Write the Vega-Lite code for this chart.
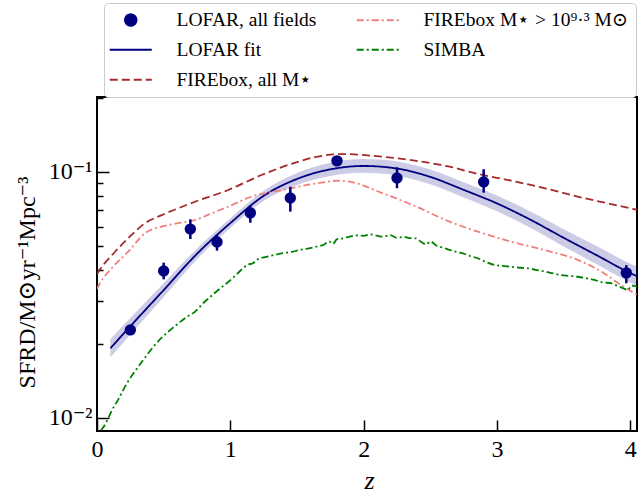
{
  "$schema": "https://vega.github.io/schema/vega-lite/v6.json",
  "width": 540,
  "height": 334,
  "autosize": {"type": "none"},
  "padding": {"left": 97, "top": 97, "right": 4, "bottom": 62},
  "background": "white",
  "config": {
    "view": {"stroke": "black", "strokeWidth": 2},
    "font": "Liberation Serif, DejaVu Serif, serif",
    "axis": {"domain": false, "grid": false, "labelFont": "Liberation Serif, DejaVu Serif, serif", "labelFontSize": 24, "labelColor": "black", "tickColor": "black", "tickWidth": 1.5, "titleFont": "Liberation Serif, DejaVu Serif, serif", "titleColor": "black", "titleFontWeight": "normal", "labelFlush": false, "labelOverlap": false, "labelBound": false},
    "legend": {
      "orient": "none", "legendX": 7, "legendY": -94, "columns": 2, "columnPadding": 35, "rowPadding": 9, "padding": 7,
      "strokeColor": "#cccccc", "fillColor": "white", "cornerRadius": 4,
      "labelFont": "Liberation Serif, DejaVu Serif, serif", "labelFontSize": 19.5, "labelColor": "black", "labelOffset": 36, "labelLimit": 400,
      "symbolOffset": 10,
      "symbolStrokeWidth": 2, "symbolFillColor": "#000080", "symbolOpacity": 1
    }
  },
  "datasets": {
    "points": [
      {"series": "LOFAR, all fields", "z": 0.25, "v": 0.0228, "lo": 0.0222, "hi": 0.0234},
      {"series": "LOFAR, all fields", "z": 0.5, "v": 0.0396, "lo": 0.0366, "hi": 0.0428},
      {"series": "LOFAR, all fields", "z": 0.7, "v": 0.0586, "lo": 0.0534, "hi": 0.0642},
      {"series": "LOFAR, all fields", "z": 0.9, "v": 0.0519, "lo": 0.0479, "hi": 0.0558},
      {"series": "LOFAR, all fields", "z": 1.15, "v": 0.0682, "lo": 0.0622, "hi": 0.0734},
      {"series": "LOFAR, all fields", "z": 1.45, "v": 0.0784, "lo": 0.069, "hi": 0.0871},
      {"series": "LOFAR, all fields", "z": 1.8, "v": 0.111, "lo": 0.107, "hi": 0.115},
      {"series": "LOFAR, all fields", "z": 2.25, "v": 0.0946, "lo": 0.0859, "hi": 0.1045},
      {"series": "LOFAR, all fields", "z": 2.9, "v": 0.091, "lo": 0.0824, "hi": 0.1026},
      {"series": "LOFAR, all fields", "z": 3.97, "v": 0.0389, "lo": 0.0353, "hi": 0.0418}
    ],
    "models": [
      {"series": "LOFAR fit", "z": 0.1, "v": 0.0192, "lo": 0.01763, "hi": 0.02091},
      {"series": "LOFAR fit", "z": 0.25, "v": 0.0236, "lo": 0.02183, "hi": 0.02551},
      {"series": "LOFAR fit", "z": 0.5, "v": 0.0331, "lo": 0.03102, "hi": 0.03532},
      {"series": "LOFAR fit", "z": 0.75, "v": 0.0465, "lo": 0.0442, "hi": 0.0489},
      {"series": "LOFAR fit", "z": 1.0, "v": 0.062, "lo": 0.0592, "hi": 0.0649},
      {"series": "LOFAR fit", "z": 1.25, "v": 0.08, "lo": 0.0763, "hi": 0.0839},
      {"series": "LOFAR fit", "z": 1.5, "v": 0.0937, "lo": 0.0886, "hi": 0.099},
      {"series": "LOFAR fit", "z": 1.75, "v": 0.1025, "lo": 0.0963, "hi": 0.1091},
      {"series": "LOFAR fit", "z": 2.0, "v": 0.1058, "lo": 0.0992, "hi": 0.1129},
      {"series": "LOFAR fit", "z": 2.25, "v": 0.1033, "lo": 0.0966, "hi": 0.1104},
      {"series": "LOFAR fit", "z": 2.5, "v": 0.0955, "lo": 0.0891, "hi": 0.1024},
      {"series": "LOFAR fit", "z": 2.75, "v": 0.0846, "lo": 0.0788, "hi": 0.0909},
      {"series": "LOFAR fit", "z": 3.0, "v": 0.0745, "lo": 0.0692, "hi": 0.0802},
      {"series": "LOFAR fit", "z": 3.25, "v": 0.064, "lo": 0.0593, "hi": 0.0691},
      {"series": "LOFAR fit", "z": 3.5, "v": 0.054, "lo": 0.0498, "hi": 0.0585},
      {"series": "LOFAR fit", "z": 3.75, "v": 0.0458, "lo": 0.0421, "hi": 0.0499},
      {"series": "LOFAR fit", "z": 4.0, "v": 0.0388, "lo": 0.0355, "hi": 0.0424},
      {"series": "LOFAR fit", "z": 4.05, "v": 0.0377, "lo": 0.0344, "hi": 0.0413},

      {"series": "FIREbox, all M⋆", "z": 0.0, "v": 0.0385},
      {"series": "FIREbox, all M⋆", "z": 0.02, "v": 0.04},
      {"series": "FIREbox, all M⋆", "z": 0.135, "v": 0.0474},
      {"series": "FIREbox, all M⋆", "z": 0.234, "v": 0.0538},
      {"series": "FIREbox, all M⋆", "z": 0.36, "v": 0.0619},
      {"series": "FIREbox, all M⋆", "z": 0.485, "v": 0.0668},
      {"series": "FIREbox, all M⋆", "z": 0.609, "v": 0.0712},
      {"series": "FIREbox, all M⋆", "z": 0.734, "v": 0.0757},
      {"series": "FIREbox, all M⋆", "z": 0.984, "v": 0.0845},
      {"series": "FIREbox, all M⋆", "z": 1.234, "v": 0.0972},
      {"series": "FIREbox, all M⋆", "z": 1.483, "v": 0.109},
      {"series": "FIREbox, all M⋆", "z": 1.646, "v": 0.1153},
      {"series": "FIREbox, all M⋆", "z": 1.845, "v": 0.1183},
      {"series": "FIREbox, all M⋆", "z": 2.145, "v": 0.1153},
      {"series": "FIREbox, all M⋆", "z": 2.395, "v": 0.111},
      {"series": "FIREbox, all M⋆", "z": 2.644, "v": 0.1051},
      {"series": "FIREbox, all M⋆", "z": 2.856, "v": 0.0982},
      {"series": "FIREbox, all M⋆", "z": 3.106, "v": 0.0922},
      {"series": "FIREbox, all M⋆", "z": 3.356, "v": 0.0859},
      {"series": "FIREbox, all M⋆", "z": 3.605, "v": 0.0794},
      {"series": "FIREbox, all M⋆", "z": 3.855, "v": 0.0741},
      {"series": "FIREbox, all M⋆", "z": 4.055, "v": 0.0701},

      {"series": "FIREbox M⋆ > 10⁹·³ M⊙", "z": 0.0, "v": 0.0335},
      {"series": "FIREbox M⋆ > 10⁹·³ M⊙", "z": 0.022, "v": 0.0353},
      {"series": "FIREbox M⋆ > 10⁹·³ M⊙", "z": 0.11, "v": 0.0406},
      {"series": "FIREbox M⋆ > 10⁹·³ M⊙", "z": 0.234, "v": 0.0474},
      {"series": "FIREbox M⋆ > 10⁹·³ M⊙", "z": 0.36, "v": 0.0564},
      {"series": "FIREbox M⋆ > 10⁹·³ M⊙", "z": 0.485, "v": 0.06},
      {"series": "FIREbox M⋆ > 10⁹·³ M⊙", "z": 0.609, "v": 0.0619},
      {"series": "FIREbox M⋆ > 10⁹·³ M⊙", "z": 0.734, "v": 0.0638},
      {"series": "FIREbox M⋆ > 10⁹·³ M⊙", "z": 0.859, "v": 0.0679},
      {"series": "FIREbox M⋆ > 10⁹·³ M⊙", "z": 0.984, "v": 0.0723},
      {"series": "FIREbox M⋆ > 10⁹·³ M⊙", "z": 1.159, "v": 0.0794},
      {"series": "FIREbox M⋆ > 10⁹·³ M⊙", "z": 1.395, "v": 0.0845},
      {"series": "FIREbox M⋆ > 10⁹·³ M⊙", "z": 1.646, "v": 0.0899},
      {"series": "FIREbox M⋆ > 10⁹·³ M⊙", "z": 1.82, "v": 0.0922},
      {"series": "FIREbox M⋆ > 10⁹·³ M⊙", "z": 1.895, "v": 0.0913},
      {"series": "FIREbox M⋆ > 10⁹·³ M⊙", "z": 2.145, "v": 0.0819},
      {"series": "FIREbox M⋆ > 10⁹·³ M⊙", "z": 2.395, "v": 0.0723},
      {"series": "FIREbox M⋆ > 10⁹·³ M⊙", "z": 2.644, "v": 0.0628},
      {"series": "FIREbox M⋆ > 10⁹·³ M⊙", "z": 2.856, "v": 0.0572},
      {"series": "FIREbox M⋆ > 10⁹·³ M⊙", "z": 3.106, "v": 0.0521},
      {"series": "FIREbox M⋆ > 10⁹·³ M⊙", "z": 3.356, "v": 0.0482},
      {"series": "FIREbox M⋆ > 10⁹·³ M⊙", "z": 3.605, "v": 0.0439},
      {"series": "FIREbox M⋆ > 10⁹·³ M⊙", "z": 3.805, "v": 0.0387},
      {"series": "FIREbox M⋆ > 10⁹·³ M⊙", "z": 3.93, "v": 0.0347},
      {"series": "FIREbox M⋆ > 10⁹·³ M⊙", "z": 4.055, "v": 0.0316},

      {"series": "SIMBA", "z": 0.03, "v": 0.0089},
      {"series": "SIMBA", "z": 0.05, "v": 0.0092},
      {"series": "SIMBA", "z": 0.085, "v": 0.01},
      {"series": "SIMBA", "z": 0.11, "v": 0.0107},
      {"series": "SIMBA", "z": 0.16, "v": 0.0119},
      {"series": "SIMBA", "z": 0.2, "v": 0.0131},
      {"series": "SIMBA", "z": 0.234, "v": 0.0141},
      {"series": "SIMBA", "z": 0.3, "v": 0.0159},
      {"series": "SIMBA", "z": 0.36, "v": 0.0176},
      {"series": "SIMBA", "z": 0.42, "v": 0.0194},
      {"series": "SIMBA", "z": 0.485, "v": 0.0212},
      {"series": "SIMBA", "z": 0.55, "v": 0.0228},
      {"series": "SIMBA", "z": 0.609, "v": 0.0242},
      {"series": "SIMBA", "z": 0.67, "v": 0.0257},
      {"series": "SIMBA", "z": 0.734, "v": 0.027},
      {"series": "SIMBA", "z": 0.8, "v": 0.0294},
      {"series": "SIMBA", "z": 0.859, "v": 0.0314},
      {"series": "SIMBA", "z": 0.92, "v": 0.0335},
      {"series": "SIMBA", "z": 0.984, "v": 0.0357},
      {"series": "SIMBA", "z": 1.05, "v": 0.0385},
      {"series": "SIMBA", "z": 1.1, "v": 0.0408},
      {"series": "SIMBA", "z": 1.133, "v": 0.042},
      {"series": "SIMBA", "z": 1.17, "v": 0.0426},
      {"series": "SIMBA", "z": 1.2, "v": 0.044},
      {"series": "SIMBA", "z": 1.271, "v": 0.0452},
      {"series": "SIMBA", "z": 1.33, "v": 0.046},
      {"series": "SIMBA", "z": 1.395, "v": 0.0468},
      {"series": "SIMBA", "z": 1.45, "v": 0.0472},
      {"series": "SIMBA", "z": 1.52, "v": 0.0482},
      {"series": "SIMBA", "z": 1.58, "v": 0.0488},
      {"series": "SIMBA", "z": 1.646, "v": 0.0497},
      {"series": "SIMBA", "z": 1.7, "v": 0.0506},
      {"series": "SIMBA", "z": 1.74, "v": 0.0522},
      {"series": "SIMBA", "z": 1.77, "v": 0.051},
      {"series": "SIMBA", "z": 1.8, "v": 0.0533},
      {"series": "SIMBA", "z": 1.85, "v": 0.0538},
      {"series": "SIMBA", "z": 1.895, "v": 0.0546},
      {"series": "SIMBA", "z": 1.95, "v": 0.0552},
      {"series": "SIMBA", "z": 2.0, "v": 0.055},
      {"series": "SIMBA", "z": 2.05, "v": 0.0558},
      {"series": "SIMBA", "z": 2.1, "v": 0.0551},
      {"series": "SIMBA", "z": 2.145, "v": 0.0546},
      {"series": "SIMBA", "z": 2.2, "v": 0.0554},
      {"series": "SIMBA", "z": 2.25, "v": 0.054},
      {"series": "SIMBA", "z": 2.3, "v": 0.0545},
      {"series": "SIMBA", "z": 2.35, "v": 0.0538},
      {"series": "SIMBA", "z": 2.395, "v": 0.0537},
      {"series": "SIMBA", "z": 2.43, "v": 0.052},
      {"series": "SIMBA", "z": 2.47, "v": 0.0508},
      {"series": "SIMBA", "z": 2.5, "v": 0.0522},
      {"series": "SIMBA", "z": 2.55, "v": 0.05},
      {"series": "SIMBA", "z": 2.6, "v": 0.0492},
      {"series": "SIMBA", "z": 2.644, "v": 0.0482},
      {"series": "SIMBA", "z": 2.7, "v": 0.0473},
      {"series": "SIMBA", "z": 2.75, "v": 0.0466},
      {"series": "SIMBA", "z": 2.8, "v": 0.0455},
      {"series": "SIMBA", "z": 2.856, "v": 0.0446},
      {"series": "SIMBA", "z": 2.92, "v": 0.043},
      {"series": "SIMBA", "z": 2.98, "v": 0.0419},
      {"series": "SIMBA", "z": 3.04, "v": 0.0415},
      {"series": "SIMBA", "z": 3.106, "v": 0.0412},
      {"series": "SIMBA", "z": 3.17, "v": 0.0408},
      {"series": "SIMBA", "z": 3.23, "v": 0.0406},
      {"series": "SIMBA", "z": 3.29, "v": 0.04},
      {"series": "SIMBA", "z": 3.356, "v": 0.0394},
      {"series": "SIMBA", "z": 3.42, "v": 0.0387},
      {"series": "SIMBA", "z": 3.48, "v": 0.0381},
      {"series": "SIMBA", "z": 3.54, "v": 0.0378},
      {"series": "SIMBA", "z": 3.605, "v": 0.0375},
      {"series": "SIMBA", "z": 3.67, "v": 0.037},
      {"series": "SIMBA", "z": 3.73, "v": 0.0364},
      {"series": "SIMBA", "z": 3.79, "v": 0.0356},
      {"series": "SIMBA", "z": 3.855, "v": 0.0353},
      {"series": "SIMBA", "z": 3.9, "v": 0.0345},
      {"series": "SIMBA", "z": 3.95, "v": 0.0336},
      {"series": "SIMBA", "z": 3.98, "v": 0.0331},
      {"series": "SIMBA", "z": 4.01, "v": 0.0345},
      {"series": "SIMBA", "z": 4.055, "v": 0.0342}
    ]
  },
  "encoding": {
    "x": {
      "field": "z", "type": "quantitative",
      "scale": {"domain": [0, 4.05], "nice": false, "zero": false},
      "axis": {"title": "z", "values": [0, 1, 2, 3, 4], "tickSize": -11, "labelPadding": 17, "titleFontStyle": "italic", "titleFontSize": 26, "titleX": 272, "titleY": 57, "titleBaseline": "alphabetic", "titleAlign": "center"}
    },
    "y": {
      "field": "v", "type": "quantitative",
      "scale": {"type": "log", "domain": [0.00885, 0.2018], "nice": false},
      "axis": {
        "title": "SFRD/M⊙yr⁻¹Mpc⁻³",
        "values": [0.01, 0.02, 0.03, 0.04, 0.05, 0.06, 0.07, 0.08, 0.09, 0.1, 0.2],
        "labelExpr": "datum.value == 0.1 ? '10⁻¹' : (datum.value == 0.01 ? '10⁻²' : '')",
        "tickSize": {"condition": {"test": "datum.value == 0.1 || datum.value == 0.01", "value": -12}, "value": -6},
        "labelPadding": 17,
        "titleFontSize": 24,
        "titleX": -63, "titleY": 185, "titleAngle": -90, "titleBaseline": "alphabetic", "titleAlign": "center"
      }
    },
    "color": {
      "field": "series", "type": "nominal",
      "scale": {
        "domain": ["LOFAR, all fields", "LOFAR fit", "FIREbox, all M⋆", "FIREbox M⋆ > 10⁹·³ M⊙", "SIMBA"],
        "range": ["#000080", "#000080", "#a52a2a", "#f08080", "#008000"]
      },
      "legend": {"title": null}
    }
  },
  "layer": [
    {
      "data": {"name": "models"},
      "transform": [{"filter": "datum.series === 'LOFAR fit'"}],
      "mark": {"type": "area", "color": "#000080", "fillOpacity": 0.2, "interpolate": "monotone", "clip": true},
      "encoding": {
        "color": {"value": "#000080"},
        "y": {"field": "lo", "type": "quantitative", "scale": {"type": "log", "domain": [0.00885, 0.2018], "nice": false}},
        "y2": {"field": "hi"}
      }
    },
    {
      "data": {"name": "models"},
      "mark": {"type": "line", "strokeWidth": 1.8, "interpolate": "monotone", "clip": true},
      "encoding": {
        "strokeDash": {
          "field": "series", "type": "nominal",
          "scale": {
            "domain": ["LOFAR, all fields", "LOFAR fit", "FIREbox, all M⋆", "FIREbox M⋆ > 10⁹·³ M⊙", "SIMBA"],
            "range": [[1, 0], [1, 0], [8, 4], [7, 3, 2, 3], [7, 3, 2, 3]]
          },
          "legend": {"title": null}
        }
      }
    },
    {
      "data": {"name": "points"},
      "mark": {"type": "rule", "strokeWidth": 2.5, "color": "#000080", "clip": true},
      "encoding": {
        "color": {"value": "#000080"},
        "y": {"field": "lo", "type": "quantitative", "scale": {"type": "log", "domain": [0.00885, 0.2018], "nice": false}},
        "y2": {"field": "hi"}
      }
    },
    {
      "data": {"name": "points"},
      "mark": {"type": "point", "filled": true, "opacity": 1, "clip": true},
      "encoding": {
        "shape": {
          "field": "series", "type": "nominal",
          "scale": {
            "domain": ["LOFAR, all fields", "LOFAR fit", "FIREbox, all M⋆", "FIREbox M⋆ > 10⁹·³ M⊙", "SIMBA"],
            "range": ["circle", "M-3,0H3", "M-3,0H3", "M-3,0H3", "M-3,0H3"]
          },
          "legend": {"title": null}
        },
        "size": {
          "field": "series", "type": "nominal",
          "scale": {
            "type": "ordinal",
            "domain": ["LOFAR, all fields", "LOFAR fit", "FIREbox, all M⋆", "FIREbox M⋆ > 10⁹·³ M⊙", "SIMBA"],
            "range": [130, 196, 196, 196, 196]
          },
          "legend": {"title": null}
        }
      }
    }
  ]
}
